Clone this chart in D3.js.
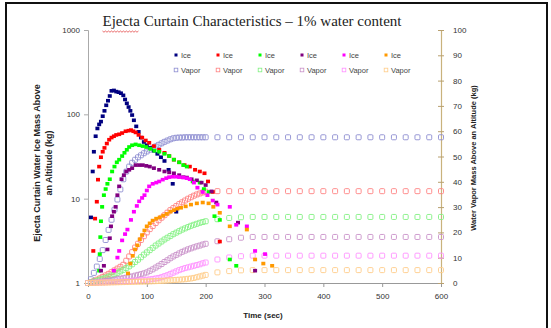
<!DOCTYPE html>
<html>
<head>
<meta charset="utf-8">
<script src="https://cdn.jsdelivr.net/npm/d3@7"></script>
<style>
  body { margin: 0; background: #fff; }
  svg { display: block; }
  .tick text { font-family: "Liberation Sans", Arial, sans-serif; font-size: 8px; fill: #333; }
</style>
</head>
<body>
<div id="chart"></div>
<script>
// tick values
const xTicks = [0, 100, 200, 300, 400, 500, 600];
const leftTicks = [1, 10, 100, 1000];
const rightTicks = [0, 10, 20, 30, 40, 50, 60, 70, 80, 90, 100];

// ice mass (kg, left log axis)
const navyIceTime = [5, 8, 10, 13, 16, 19, 22, 25, 28, 31, 34, 37, 40, 44, 48, 52, 56, 60, 63, 66, 69, 72, 75, 78, 82, 86, 90, 95, 100, 106, 112, 118, 124, 130, 137, 144, 150];
const navyIceMass = [6, 21, 36, 55, 68, 76, 82, 95, 110, 128, 145, 165, 190, 192, 186, 183, 178, 168, 150, 135, 122, 110, 98, 85, 72, 62, 53, 47, 43, 40, 37, 34, 31, 28, 22, 15, 7];

const redIceTime = [9, 12, 15, 17, 19, 22, 25, 28, 32, 36, 40, 44, 48, 53, 58, 64, 69, 73, 77, 81, 86, 92, 98, 104, 112, 121, 130, 138, 146, 155, 164, 173, 182, 190, 198, 204, 212, 224];
const redIceMass = [2.4, 5.8, 9.2, 16.8, 24, 31, 36, 40, 45, 50, 53, 55, 57, 58, 60, 63, 64, 65, 63, 61, 57, 53, 49, 46, 42, 38, 35, 32, 29, 27, 25, 24, 22, 21, 20, 16, 12, 3.1];

const greenIceTime = [19, 20, 21, 22, 24, 27, 30, 33, 37, 41, 45, 49, 53, 58, 62, 66, 70, 75, 81, 87, 93, 99, 106, 113, 121, 130, 138, 146, 155, 162, 168, 178, 190, 197, 205, 215, 224, 241, 252];
const greenIceMass = [1.4, 2.2, 3.5, 5.4, 8, 11, 13, 15, 17, 21, 24, 27, 29, 32, 35, 38, 41, 43, 44, 43, 42, 41, 39, 37, 36, 34, 32, 29, 27, 25, 24, 16, 15.5, 13, 12, 6.2, 5.6, 1.9, 1.6];

const purpleIceTime = [22, 27, 33, 37, 39, 41, 44, 47, 50, 53, 57, 61, 65, 70, 75, 81, 87, 93, 99, 105, 112, 121, 130, 138, 146, 155, 162, 168, 176, 185, 193, 200, 210, 218, 255, 284];
const purpleIceMass = [1.4, 1.6, 2.5, 3.4, 4.7, 6.2, 7, 8, 11, 14, 17, 19, 21, 22, 23, 25, 25, 25, 24.5, 24, 23, 22, 21, 20.5, 20, 19, 18, 17.8, 17, 16.5, 15.5, 14.5, 12.2, 9, 5.2, 1.4];

const magentaIceTime = [44, 50, 53, 58, 63, 67, 73, 78, 83, 87, 92, 96, 100, 104, 110, 116, 121, 127, 133, 138, 144, 150, 155, 162, 168, 173, 180, 186, 195, 203, 212, 220, 241, 252, 270, 284, 301];
const magentaIceMass = [1.4, 2, 2.4, 3.2, 3.8, 4.3, 5.6, 7, 8.2, 9.3, 10.2, 11, 12.5, 14, 15, 15.5, 16, 16.8, 17.5, 18, 18.2, 18.2, 18, 17.8, 17.5, 17, 15.5, 13.5, 12, 11, 9.5, 8.5, 8, 4.9, 4.7, 2.4, 2.2];

const orangeIceTime = [68, 72, 76, 80, 84, 88, 92, 96, 100, 105, 110, 116, 122, 128, 134, 140, 146, 152, 158, 166, 175, 185, 195, 205, 213, 224, 241, 270, 284, 298, 313];
const orangeIceMass = [1.3, 1.7, 2.1, 2.5, 2.8, 3.3, 3.7, 4.2, 4.7, 5.1, 5.5, 5.8, 6, 6.3, 6.6, 7, 7.3, 7.6, 7.8, 8.1, 8.5, 8.8, 9, 8.8, 8, 6.8, 4.7, 4.3, 1.9, 1.7, 1.6];

// vapor mass (kg, right linear axis)
const vaporTime = [0, 5, 10, 15, 20, 25, 30, 35, 40, 45, 50, 55, 60, 65, 70, 75, 80, 85, 90, 95,
  100, 105, 110, 115, 120, 125, 130, 135, 140, 145, 150, 155, 160, 165, 170, 175, 180, 185, 190, 195,
  200, 220, 240, 260, 280, 300, 320, 340, 360, 380, 400, 420, 440, 460, 480, 500, 520, 540, 560, 580, 600];

const navyVapor = [0, 1.5, 4, 6.5, 9.5, 13, 17, 21, 25, 29, 33, 37, 41, 44, 46, 47.5, 48.7, 49.7, 50.5, 51.3,
  52, 52.7, 53.3, 54, 54.6, 55.2, 55.8, 56.3, 56.8, 57.2, 57.4, 57.5, 57.5, 57.6, 57.6, 57.6, 57.6, 57.6, 57.6, 57.6,
  57.6, 57.6, 57.6, 57.6, 57.6, 57.6, 57.6, 57.6, 57.6, 57.6, 57.6, 57.6, 57.6, 57.6, 57.6, 57.6, 57.6, 57.6, 57.6, 57.6, 57.6];
const redVapor = [0, 0.4, 0.8, 1.3, 1.8, 2.4, 3, 3.6, 4.3, 5, 5.7, 6.4, 7.2, 8.8, 10.5, 12.2, 14, 15.5, 17, 18.5,
  20, 21.3, 22.5, 23.7, 24.8, 25.8, 26.8, 27.8, 28.8, 29.6, 30.4, 31.2, 31.9, 32.6, 33.3, 33.9, 34.5, 35, 35.4, 35.8,
  36.1, 36.3, 36.3, 36.3, 36.3, 36.3, 36.3, 36.3, 36.3, 36.3, 36.3, 36.3, 36.3, 36.3, 36.3, 36.3, 36.3, 36.3, 36.3, 36.3, 36.3];
const greenVapor = [0, 0.3, 0.6, 0.9, 1.3, 1.7, 2.1, 2.5, 3, 3.5, 4, 4.6, 5.2, 5.9, 6.6, 7.4, 8.3, 9.2, 10.2, 11.2,
  12.1, 13, 13.9, 14.8, 15.6, 16.4, 17.2, 17.9, 18.6, 19.3, 19.9, 20.5, 21.1, 21.6, 22.1, 22.6, 23, 23.4, 23.8, 24.1,
  24.4, 25.2, 25.7, 26, 26.1, 26.1, 26.1, 26.1, 26.1, 26.1, 26.1, 26.1, 26.1, 26.1, 26.1, 26.1, 26.1, 26.1, 26.1, 26.1, 26.1];
const purpleVapor = [0, 0.1, 0.2, 0.3, 0.5, 0.6, 0.8, 0.9, 1.1, 1.3, 1.5, 1.7, 1.9, 2.1, 2.4, 2.6, 2.9, 3.2, 3.5, 3.8,
  4.2, 4.8, 5.4, 6.1, 6.8, 7.5, 8.3, 9, 9.8, 10.5, 11.1, 11.7, 12.3, 12.8, 13.3, 13.7, 14.1, 14.5, 14.8, 15.2,
  15.5, 16.5, 17.3, 17.9, 18.2, 18.2, 18.2, 18.2, 18.2, 18.2, 18.2, 18.2, 18.2, 18.2, 18.2, 18.2, 18.2, 18.2, 18.2, 18.2, 18.2];
const magentaVapor = [0, 0.05, 0.1, 0.15, 0.2, 0.25, 0.3, 0.35, 0.4, 0.45, 0.5, 0.55, 0.6, 0.65, 0.7, 0.8, 0.9, 1, 1.1, 1.2,
  1.3, 1.45, 1.6, 1.8, 2, 2.3, 2.7, 3.1, 3.6, 4.1, 4.6, 5.1, 5.5, 5.9, 6.2, 6.5, 6.8, 7.1, 7.4, 7.8,
  8.1, 9.3, 10.1, 10.6, 10.8, 10.8, 10.8, 10.8, 10.8, 10.8, 10.8, 10.8, 10.8, 10.8, 10.8, 10.8, 10.8, 10.8, 10.8, 10.8, 10.8];
const orangeVapor = [0, 0.03, 0.06, 0.09, 0.12, 0.15, 0.18, 0.21, 0.24, 0.27, 0.3, 0.33, 0.36, 0.39, 0.42, 0.45, 0.48, 0.51, 0.54, 0.57,
  0.6, 0.65, 0.7, 0.75, 0.8, 0.86, 0.92, 1, 1.08, 1.15, 1.22, 1.3, 1.4, 1.5, 1.65, 1.8, 2, 2.3, 2.6, 2.9,
  3.2, 4.2, 4.7, 5, 5.1, 5.1, 5.1, 5.1, 5.1, 5.1, 5.1, 5.1, 5.1, 5.1, 5.1, 5.1, 5.1, 5.1, 5.1, 5.1, 5.1];

const iceColors = ["#000080", "#ff0000", "#00ff00", "#800080", "#ff00ff", "#ff9900"];
const vaporColors = ["#8c8cd0", "#ff8080", "#80f080", "#c890c8", "#ff90ff", "#ffcc88"];

const iceSeries = [
  [navyIceTime, navyIceMass], [redIceTime, redIceMass], [greenIceTime, greenIceMass],
  [purpleIceTime, purpleIceMass], [magentaIceTime, magentaIceMass], [orangeIceTime, orangeIceMass]
];
const vaporSeries = [navyVapor, redVapor, greenVapor, purpleVapor, magentaVapor, orangeVapor];

const width = 551, height = 328;
const sans = "'Liberation Sans', Arial, sans-serif";

const svg = d3.select("#chart").append("svg")
  .attr("width", width)
  .attr("height", height);

// kader
svg.append("rect")
  .attr("x", 6).attr("y", 3)
  .attr("width", 541).attr("height", 340)
  .attr("fill", "#fff")
  .attr("stroke", "#111")
  .attr("stroke-width", 2);

const x = d3.scaleLinear().domain([0, 600]).range([88, 441]);
const yIce = d3.scaleLog().domain([1, 1000]).range([283, 30]);
const yVap = d3.scaleLinear().domain([0, 100]).range([283, 30]);

// assen
const xAs = svg.append("g")
  .attr("transform", `translate(0,${283})`)
  .call(d3.axisBottom(x).tickValues(xTicks).tickSize(4).tickPadding(6));
xAs.select(".domain").attr("stroke", "#999");
xAs.selectAll(".tick line").attr("stroke", "#999");

const links = svg.append("g")
  .attr("transform", "translate(88,0)")
  .call(d3.axisLeft(yIce).tickValues(leftTicks).tickFormat(d3.format("d")).tickSize(4).tickPadding(4));
links.select(".domain").attr("stroke", "#aaa");
links.selectAll(".tick line").attr("stroke", "#aaa");

const rechts = svg.append("g")
  .attr("transform", "translate(441,0)")
  .call(d3.axisRight(yVap).tickValues(rightTicks).tickSize(3).tickPadding(9));
rechts.select(".domain").attr("stroke", "#c9b27c").attr("stroke-width", 1.2);
rechts.selectAll(".tick line").attr("x1", -3).attr("stroke", "#b8a070");

// vapor: open vierkantjes
vaporSeries.forEach((vals, i) => {
  svg.append("g")
    .selectAll("rect")
    .data(vaporTime.map((t, j) => [t, vals[j]]))
    .join("rect")
    .attr("x", d => x(d[0]) - 2.5)
    .attr("y", d => yVap(d[1]) - 2.5)
    .attr("width", 5).attr("height", 5)
    .attr("rx", 1)
    .attr("fill", "none")
    .attr("stroke", vaporColors[i])
    .attr("stroke-width", 0.9);
});

// ice: gevulde vierkantjes
iceSeries.forEach(([times, vals], i) => {
  svg.append("g")
    .selectAll("rect")
    .data(times.map((t, j) => [t, vals[j]]))
    .join("rect")
    .attr("x", d => x(d[0]) - 2)
    .attr("y", d => yIce(d[1]) - 1.8)
    .attr("width", 4).attr("height", 3.6)
    .attr("fill", iceColors[i]);
});

// legenda
const legend = svg.append("g").attr("font-family", sans).attr("font-size", 7.5).attr("fill", "#444");
iceColors.forEach((c, i) => {
  const lx = 176 + i * 42;
  legend.append("rect").attr("x", lx - 1.5).attr("y", 53.5).attr("width", 3).attr("height", 3).attr("fill", c);
  legend.append("text").attr("x", lx + 5).attr("y", 57.5).text("Ice");
  legend.append("rect").attr("x", lx - 1.8).attr("y", 68.2).attr("width", 3.6).attr("height", 3.6)
    .attr("fill", "none").attr("stroke", vaporColors[i]).attr("stroke-width", 0.8);
  legend.append("text").attr("x", lx + 5).attr("y", 72.5).text("Vapor");
});

// titel
const titel = svg.append("text")
  .attr("x", 252).attr("y", 26)
  .attr("text-anchor", "middle")
  .attr("font-family", "'Liberation Serif', 'Times New Roman', serif")
  .attr("font-size", 15)
  .attr("fill", "#222")
  .text("Ejecta Curtain Characteristics \u2013 1% water content");

// rode kronkel onder "Ejecta"
const tn = titel.node();
const x0 = tn.getStartPositionOfChar(0).x, x1 = tn.getEndPositionOfChar(5).x;
let kronkel = `M${x0},31`;
for (let px = x0 + 1.5, k = 0; px <= x1; px += 1.5, k++) kronkel += `L${px},${k % 2 ? 31 : 32.2}`;
svg.append("path").attr("d", kronkel).attr("fill", "none").attr("stroke", "#e03030").attr("stroke-width", 0.7);

// as-titels
svg.append("text")
  .attr("transform", "translate(40,163) rotate(-90)")
  .attr("text-anchor", "middle")
  .attr("font-family", sans).attr("font-size", 9).attr("font-weight", "bold").attr("fill", "#222")
  .selectAll("tspan")
  .data(["Ejecta Curtain Water Ice Mass Above", "an Altitude (kg)"])
  .join("tspan")
  .attr("x", 0)
  .attr("dy", (d, i) => i ? 12 : 0)
  .text(d => d);

svg.append("text")
  .attr("transform", "translate(476,158) rotate(-90)")
  .attr("text-anchor", "middle")
  .attr("font-family", sans).attr("font-size", 7.5).attr("font-weight", "bold").attr("fill", "#222")
  .text("Water Vapor Mass Above an Altitude (kg)");

svg.append("text")
  .attr("x", 263).attr("y", 318)
  .attr("text-anchor", "middle")
  .attr("font-family", sans).attr("font-size", 8).attr("font-weight", "bold").attr("fill", "#222")
  .text("Time (sec)");
</script>
</body>
</html>
